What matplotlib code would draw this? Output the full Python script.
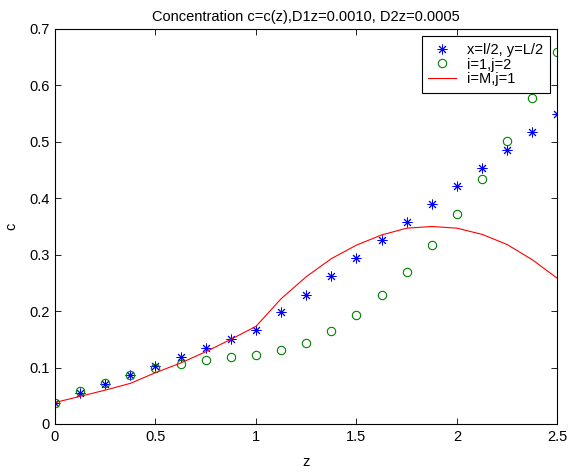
import matplotlib
matplotlib.use("Agg")
import matplotlib.pyplot as plt
import numpy as np

z = [0, 0.125, 0.25, 0.375, 0.5, 0.625, 0.75, 0.875, 1.0, 1.125, 1.25,
     1.375, 1.5, 1.625, 1.75, 1.875, 2.0, 2.125, 2.25, 2.375, 2.5]
c_center = [0.038, 0.055, 0.071, 0.086, 0.103, 0.119, 0.134, 0.150, 0.167, 0.199, 0.228,
            0.262, 0.294, 0.326, 0.358, 0.390, 0.422, 0.454, 0.486, 0.518, 0.550]
c_i1j2 = [0.038, 0.058, 0.073, 0.086, 0.099, 0.106, 0.114, 0.119, 0.122, 0.131, 0.144,
          0.165, 0.194, 0.229, 0.270, 0.318, 0.373, 0.434, 0.502, 0.578, 0.660]
c_iMj1 = [0.038, 0.049, 0.060, 0.072, 0.091, 0.108, 0.128, 0.150, 0.173, 0.222, 0.261,
          0.293, 0.317, 0.335, 0.347, 0.350, 0.347, 0.336, 0.318, 0.291, 0.258]

title = "Concentration c=c(z),D1z=0.0010, D2z=0.0005"
labels = ["x=l/2, y=L/2", "i=1,j=2", "i=M,j=1"]
xticks = [0, 0.5, 1, 1.5, 2, 2.5]
yticks = [0, 0.1, 0.2, 0.3, 0.4, 0.5, 0.6, 0.7]

plt.rcParams['font.family'] = ['Liberation Sans', 'DejaVu Sans']
fig = plt.figure(figsize=(5.71, 4.72), dpi=100)
ax = fig.add_axes([0.0963, 0.1017, 0.8800, 0.8369])

ax.plot(z, c_center, linestyle='none', marker=(8, 2, 0), markersize=7,
        markeredgecolor='blue', markeredgewidth=0.7, color='blue', label=labels[0])
ax.plot(z, c_i1j2, linestyle='none', marker='o', markersize=6,
        markerfacecolor='none', markeredgecolor='#008000', markeredgewidth=0.8, label=labels[1])
ax.plot(z, c_iMj1, color='red', linewidth=0.8, label=labels[2])

ax.set_xlim(0, 2.5)
ax.set_ylim(0, 0.7)
ax.set_xticks(xticks)
ax.set_xticklabels(['0', '0.5', '1', '1.5', '2', '2.5'])
ax.set_yticks(yticks)
ax.set_yticklabels(['0', '0.1', '0.2', '0.3', '0.4', '0.5', '0.6', '0.7'])
ax.tick_params(direction='in', top=True, right=True, length=4, width=0.6,
               labelsize=10.5, pad=4)
for s in ax.spines.values():
    s.set_linewidth(0.8)

ax.set_title(title, fontsize=10.5, pad=6)
ax.set_xlabel('z', fontsize=10.5, labelpad=8)
ax.set_ylabel('c', fontsize=10.5, labelpad=8)

leg = ax.legend(loc='upper right', fontsize=10.5, frameon=True, fancybox=False,
                edgecolor='black', framealpha=1, borderaxespad=0.5,
                handlelength=1.9, borderpad=0.45, labelspacing=0.05, handletextpad=0.8)
leg.get_frame().set_linewidth(0.8)

fig.savefig("out.png", dpi=100)
